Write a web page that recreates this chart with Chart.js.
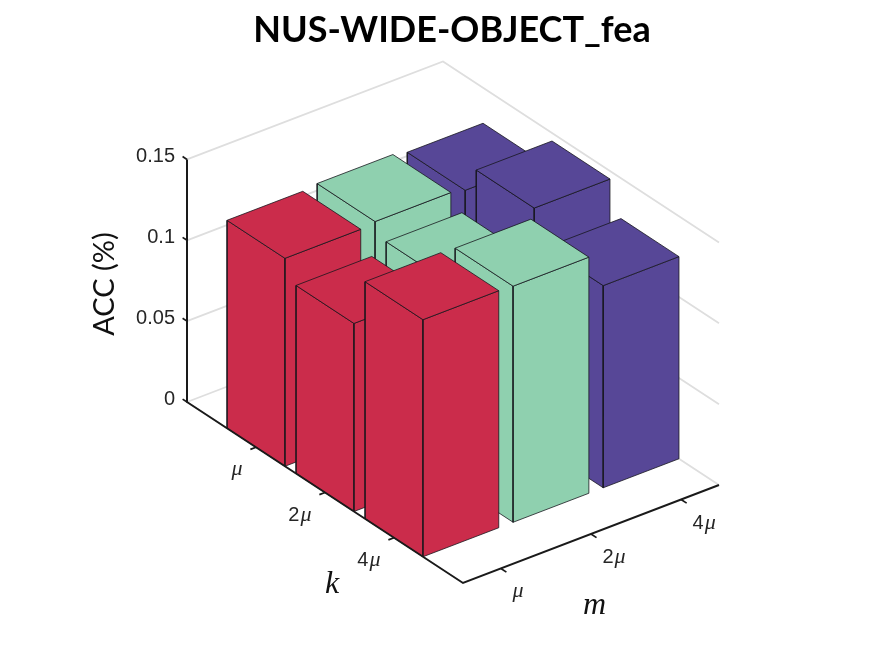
<!DOCTYPE html>
<html>
<head>
<meta charset="utf-8">
<style>html,body{margin:0;padding:0;background:#fff}canvas{display:block}</style>
<script src="https://cdn.jsdelivr.net/npm/chart.js@4/dist/chart.umd.js"></script>
</head>
<body>
<canvas id="c" width="875" height="656"></canvas>
<script>
// ---- data ----
const kLabels = ['μ', '2μ', '4μ'];
const mLabels = ['μ', '2μ', '4μ'];
const zTicks = [0, 0.05, 0.1, 0.15];
const redValues = [0.1286, 0.1163, 0.1466];    // m = μ,  k = μ, 2μ, 4μ
const mintValues = [0.130, 0.122, 0.146];      // m = 2μ
const purpleValues = [0.128, 0.145, 0.125];    // m = 4μ

const seriesValues = [redValues, mintValues, purpleValues];
const seriesColors = ['#CB2C4B', '#8FD0AF', '#574797'];

// ---- oblique projection of the 3D box onto the chart's x/y scales ----
const TITLE_H = 60, H = 656, LEFT_PAD = 29, W = 875;
const PX_PER_UNIT = 1617, ORIGIN_X = 187, ORIGIN_Y = 402;
const K = {x: 276, y: 181}, M = {x: 256, y: -98};
const project = (u, v, z) => ({
  x: ORIGIN_X + K.x * u + M.x * v,
  y: z - (K.y * u + M.y * v) / PX_PER_UNIT
});
const kCentre = j => 0.25 * (j + 1);
const mCentre = i => 0.148 + 0.352 * i;
const HALF_K = 0.105, HALF_M = 0.148;

const datasets = [];
const addLine = (pts, color, width) => datasets.push({
  data: pts, showLine: true, fill: false, borderColor: color, borderWidth: width,
  pointRadius: 0, pointHoverRadius: 0, tension: 0, borderCapStyle: 'butt', borderJoinStyle: 'miter',
  order: -datasets.length
});
const addFace = (pts, color) => datasets.push({
  data: pts.concat([pts[0]]), showLine: true, fill: 'shape', backgroundColor: color,
  borderColor: 'rgba(22,22,28,0.78)', borderWidth: 1,
  pointRadius: 0, pointHoverRadius: 0, tension: 0, borderJoinStyle: 'round',
  order: -datasets.length
});

// wall grid lines
zTicks.forEach(z => {
  addLine([project(0, 0, z), project(0, 1, z), project(1, 1, z)], '#dedede', 1.8);
});

// bars, back to front
for (let i = seriesValues.length - 1; i >= 0; i--) {
  seriesValues[i].forEach((val, j) => {
    const u0 = kCentre(j) - HALF_K, u1 = kCentre(j) + HALF_K;
    const v0 = mCentre(i) - HALF_M, v1 = mCentre(i) + HALF_M;
    const c = seriesColors[i];
    addFace([project(u0, v0, 0), project(u1, v0, 0), project(u1, v0, val), project(u0, v0, val)], c);
    addFace([project(u1, v0, 0), project(u1, v1, 0), project(u1, v1, val), project(u1, v0, val)], c);
    addFace([project(u0, v0, val), project(u1, v0, val), project(u1, v1, val), project(u0, v1, val)], c);
  });
}

// axes and tick marks
const AXIS = '#1a1a1a';
addLine([project(0, 0, zTicks[zTicks.length - 1]), project(0, 0, 0), project(1, 0, 0), project(1, 1, 0)], AXIS, 2);
zTicks.forEach(z => addLine([project(0, 0, z), project(-0.016, 0, z)], AXIS, 1.7));
kLabels.forEach((_, j) => addLine([project(kCentre(j), 0, 0), project(kCentre(j), -0.022, 0)], AXIS, 1.7));
mLabels.forEach((_, i) => addLine([project(1, mCentre(i), 0), project(1.02, mCentre(i), 0)], AXIS, 1.7));

// ---- text that belongs to the oblique axes ----
const TICK_COLOR = '#262626';
function drawMuLabel(ctx, text, x, y, alignRight) {
  const hasDigit = text.length > 1;
  const digit = hasDigit ? text[0] : '';
  ctx.textBaseline = 'alphabetic';
  ctx.textAlign = 'left';
  ctx.fillStyle = TICK_COLOR;
  const digitFont = '20px "Liberation Sans"';
  const muFont = 'italic 22px "Liberation Serif"';
  ctx.font = digitFont;
  const dw = hasDigit ? ctx.measureText(digit).width + 1 : 0;
  ctx.font = muFont;
  const mw = ctx.measureText('μ').width;
  const x0 = alignRight ? x - dw - mw : x;
  if (hasDigit) {
    ctx.font = digitFont;
    ctx.fillText(digit, x0, y);
  }
  ctx.font = muFont;
  ctx.fillText('μ', x0 + dw, y);
}
const axisText = {
  id: 'axisText',
  afterDraw(chart) {
    const {ctx, scales: {x, y}} = chart;
    const px = p => ({x: x.getPixelForValue(p.x), y: y.getPixelForValue(p.y)});
    ctx.save();
    kLabels.forEach((t, j) => {
      const f = px(project(kCentre(j), 0, 0));
      drawMuLabel(ctx, t, f.x - 13.5, f.y + 28, true);
    });
    mLabels.forEach((t, i) => {
      const f = px(project(1, mCentre(i), 0));
      drawMuLabel(ctx, t, f.x + 11.5, f.y + 29, false);
    });
    ctx.fillStyle = '#111';
    ctx.textAlign = 'left';
    ctx.textBaseline = 'alphabetic';
    ctx.font = 'italic 32px "Liberation Serif"';
    ctx.fillText('k', 325, 593);
    ctx.fillText('m', 583, 614);
    ctx.save();
    ctx.translate(114, 284);
    ctx.rotate(-Math.PI / 2);
    ctx.textAlign = 'center';
    ctx.fillStyle = '#111';
    ctx.font = '29px Lato';
    ctx.fillText('ACC (%)', 0, 0);
    ctx.restore();
    ctx.restore();
  }
};

const TITLE_SIZE = 36;
new Chart(document.getElementById('c'), {
  type: 'scatter',
  data: {datasets},
  plugins: [axisText],
  options: {
    responsive: false,
    animation: false,
    devicePixelRatio: 1,
    events: [],
    layout: {padding: {left: LEFT_PAD, top: 0, right: 0, bottom: 0}},
    plugins: {
      legend: {display: false},
      tooltip: {enabled: false},
      title: {
        display: true,
        text: 'NUS-WIDE-OBJECT_fea',
        color: '#000',
        font: {family: 'Lato', weight: '700', size: TITLE_SIZE, lineHeight: 1.2},
        padding: {top: (TITLE_H - TITLE_SIZE * 1.2) / 2, bottom: (TITLE_H - TITLE_SIZE * 1.2) / 2}
      }
    },
    scales: {
      x: {type: 'linear', min: LEFT_PAD, max: W, display: false},
      y: {
        type: 'linear',
        position: {x: 175},
        max: (ORIGIN_Y - TITLE_H) / PX_PER_UNIT,
        min: (ORIGIN_Y - H) / PX_PER_UNIT,
        afterBuildTicks: axis => { axis.ticks = zTicks.map(value => ({value})); },
        afterFit: axis => { axis.paddingTop = 0; axis.paddingBottom = 0; },
        grid: {display: false},
        border: {display: false},
        ticks: {
          autoSkip: false,
          labelOffset: -3,
          color: TICK_COLOR,
          font: {family: '"Liberation Sans"', size: 20},
          callback: v => String(v)
        }
      }
    }
  }
});
</script>
</body>
</html>
